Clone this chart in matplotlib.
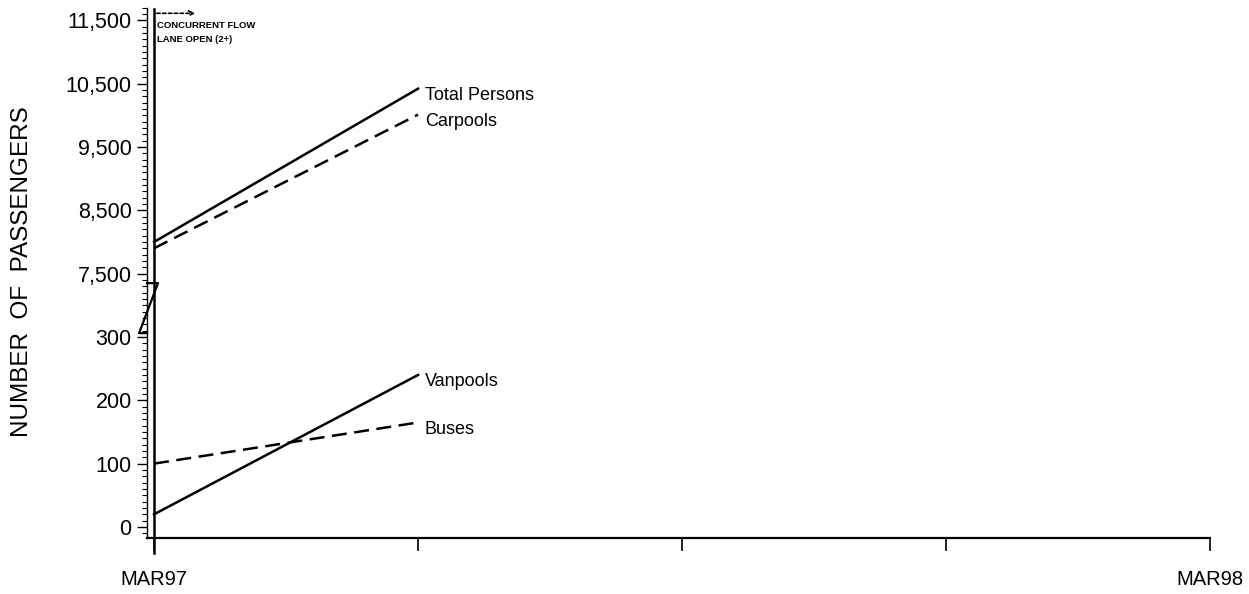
import numpy as np
import matplotlib
matplotlib.use("Agg")
import matplotlib.pyplot as plt
from matplotlib import rc

rc('font', **{'family': 'sans-serif', 'sans-serif': ['Liberation Sans'], 'size': 14})

# months after MAR97
months = [0, 3]
total_persons = [8000, 10420]
carpools = [7900, 10010]
vanpools = [20, 240]
buses = [100, 165]

x_tick_pos = [0, 3, 6, 9, 12]
x_tick_labels = ['MAR97', '', '', '', 'MAR98']
low_ticks = [0, 100, 200, 300]
high_ticks = [7500, 8500, 9500, 10500, 11500]

BREAK_LO = 7500   # upper scale starts here
BREAK_POS = 400   # axis position where upper scale begins


def to_axis(v):
    # upper scale values are squeezed 10:1 above the break
    v = np.asarray(v, dtype=float)
    return np.where(v >= 1000, BREAK_POS + (v - BREAK_LO) / 10.0, v)


fig = plt.figure(figsize=(12.49, 5.94), dpi=100)
ax = fig.add_axes([147 / 1249, 56 / 594, (1210 - 147) / 1249, 530.4 / 594])
ax.set_xlim(-0.08, 12)
ax.set_ylim(-17.4, 820)

dash = (0, (6, 3))
series = [
    (total_persons, '-', 'Total Persons'),
    (carpools, dash, 'Carpools'),
    (vanpools, '-', 'Vanpools'),
    (buses, dash, 'Buses'),
]
for vals, ls, name in series:
    yv = to_axis(vals)
    ax.plot(months, yv, color='black', linestyle=ls, linewidth=1.8)
    ax.annotate(name, (months[-1], yv[-1]), xytext=(5, -5), textcoords='offset points',
                ha='left', va='center', fontsize=13)

# y axis with broken scale
ax.set_yticks(list(to_axis(low_ticks)) + list(to_axis(high_ticks)))
ax.set_yticklabels([str(v) for v in low_ticks] + ['{:,}'.format(v) for v in high_ticks])
ax.set_yticks(np.arange(-10, 821, 10), minor=True)
ax.tick_params(axis='y', which='major', length=7, width=1, pad=4, labelsize=15.5)
ax.tick_params(axis='y', which='minor', length=3.5, width=0.8)

ax.set_xticks(x_tick_pos)
ax.set_xticklabels(x_tick_labels)
ax.tick_params(axis='x', which='major', length=9, width=1.2, pad=14, labelsize=14.5)

for s in ['top', 'right']:
    ax.spines[s].set_visible(False)
ax.spines['left'].set_linewidth(1.0)
ax.spines['bottom'].set_linewidth(1.6)

# break mark on the y axis
ax.plot([-0.08, 0.045, -0.17, -0.08], [385, 385, 306, 306], color='black',
        linewidth=1.6, clip_on=False)

# concurrent flow lane opening marker
ax.plot([0, 0], [-41, 818], color='black', linewidth=1.8, clip_on=False)
ax.annotate('', xy=(0.5, 811), xytext=(0.0, 811),
            arrowprops=dict(arrowstyle='->', linestyle=(0, (2, 1.5)), lw=1.2,
                            color='black', mutation_scale=9),
            annotation_clip=False)
ax.text(0.035, 792, 'CONCURRENT FLOW', fontsize=6.8, fontweight='bold', va='center')
ax.text(0.035, 770, 'LANE OPEN (2+)', fontsize=6.8, fontweight='bold', va='center')

fig.text(22 / 1249, (594 - 272) / 594, 'NUMBER  OF  PASSENGERS', rotation=90,
         ha='center', va='center', fontsize=17.5)

plt.savefig('out.png', dpi=100)
